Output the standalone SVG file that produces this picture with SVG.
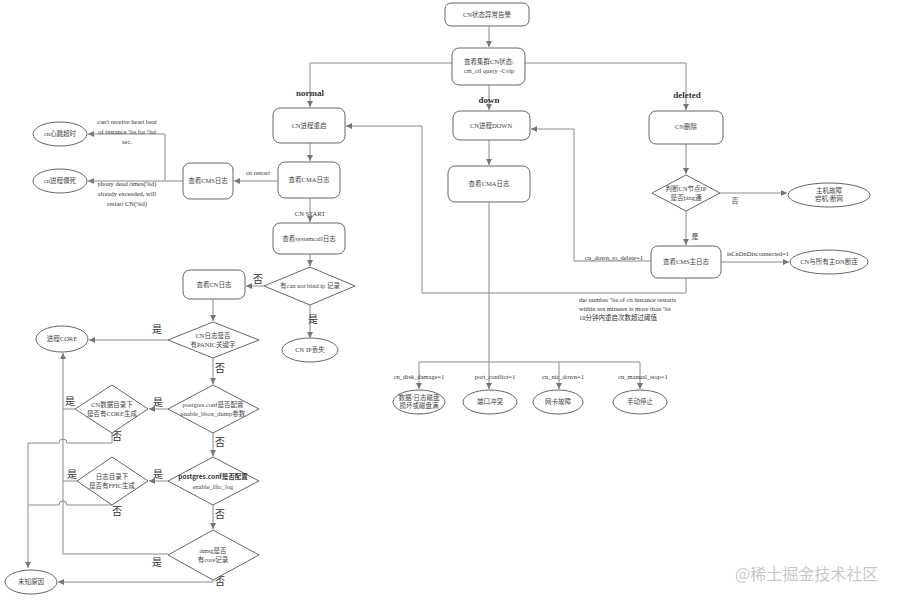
<svg xmlns="http://www.w3.org/2000/svg" width="899" height="601" viewBox="0 0 899 601">
<defs>
<style>
.box{fill:#fff;stroke:#666;stroke-width:1}
.ln{fill:none;stroke:#8a8a8a;stroke-width:1}
.t{font-family:"Liberation Serif","Noto Sans CJK SC",serif;font-size:6.5px;fill:#444;text-anchor:middle}
.lb{font-family:"Liberation Serif","Noto Sans CJK SC",serif;font-size:6.5px;fill:#333;text-anchor:middle}
.br{font-family:"Liberation Serif","Noto Sans CJK SC",serif;font-size:9px;font-weight:bold;fill:#333;text-anchor:middle}
.yn{font-family:"Liberation Serif","Noto Sans CJK SC",serif;font-size:10px;fill:#333;text-anchor:middle}
.yns{font-family:"Liberation Serif","Noto Sans CJK SC",serif;font-size:7px;fill:#444;text-anchor:middle}
.wm{font-family:"Noto Sans CJK SC",sans-serif;font-size:16px;fill:#c8c8c8}
</style>
<marker id="a" markerWidth="7" markerHeight="7" refX="6" refY="3.5" orient="auto" markerUnits="userSpaceOnUse">
<path d="M0,0.5 L6,3.5 L0,6.5 Z" fill="#777"/>
</marker>
</defs>
<rect width="899" height="601" fill="#fff"/>

<g id="connectors">
<path class="ln" d="M489,26 V47" marker-end="url(#a)"/>
<path class="ln" d="M452,63 H310 V107" marker-end="url(#a)"/>
<path class="ln" d="M525,63 H686 V110" marker-end="url(#a)"/>
<path class="ln" d="M489,85 V110" marker-end="url(#a)"/>
<path class="ln" d="M310,143 V161" marker-end="url(#a)"/>
<path class="ln" d="M278,181 H234" marker-end="url(#a)"/>
<path class="ln" d="M183,181 H88" marker-end="url(#a)"/>
<path class="ln" d="M165,181 V134 H88" marker-end="url(#a)"/>
<path class="ln" d="M310,198 V222" marker-end="url(#a)"/>
<path class="ln" d="M310,254 V266" marker-end="url(#a)"/>
<path class="ln" d="M264,286 H246" marker-end="url(#a)"/>
<path class="ln" d="M310,305 V338" marker-end="url(#a)"/>
<path class="ln" d="M213,299 V321" marker-end="url(#a)"/>
<path class="ln" d="M168,340 H89" marker-end="url(#a)"/>
<path class="ln" d="M213,358 V384" marker-end="url(#a)"/>
<path class="ln" d="M168,409 H149" marker-end="url(#a)"/>
<path class="ln" d="M75,409 H63"/>
<path class="ln" d="M63,554 V353" marker-end="url(#a)"/>
<path class="ln" d="M112,433 V443 H67 A4,4 0 0 0 59,443 H28 V568" marker-end="url(#a)"/>
<path class="ln" d="M213,433 V456" marker-end="url(#a)"/>
<path class="ln" d="M168,481 H149" marker-end="url(#a)"/>
<path class="ln" d="M77,481 H63"/>
<path class="ln" d="M112,505 H67 A4,4 0 0 0 59,505 H28"/>
<path class="ln" d="M213,505 V529" marker-end="url(#a)"/>
<path class="ln" d="M168,554 H63"/>
<path class="ln" d="M213,580 V582 H58" marker-end="url(#a)"/>
<path class="ln" d="M489,140 V165" marker-end="url(#a)"/>
<path class="ln" d="M489,202 V389" marker-end="url(#a)"/>
<path class="ln" d="M419,362 H640"/>
<path class="ln" d="M419,362 V389" marker-end="url(#a)"/>
<path class="ln" d="M559,362 V389" marker-end="url(#a)"/>
<path class="ln" d="M640,362 V389" marker-end="url(#a)"/>
<path class="ln" d="M686,144 V174" marker-end="url(#a)"/>
<path class="ln" d="M720,193 H787" marker-end="url(#a)"/>
<path class="ln" d="M686,211 V245" marker-end="url(#a)"/>
<path class="ln" d="M721,262 H789" marker-end="url(#a)"/>
<path class="ln" d="M651,261 H574 V129 H531" marker-end="url(#a)"/>
<path class="ln" d="M686,278 V293 H422 V126 H346" marker-end="url(#a)"/>
</g>

<g id="labels">
<text class="br" x="310" y="96">normal</text>
<text class="br" x="489" y="103">down</text>
<text class="br" x="687" y="98">deleted</text>
<text class="lb" x="258" y="175">cn restart</text>
<text class="lb" x="127" y="124">can't receive heart beat</text>
<text class="lb" x="127" y="134">of instance %s for %d</text>
<text class="lb" x="127" y="144">sec.</text>
<text class="lb" x="127" y="186">phony dead times(%d)</text>
<text class="lb" x="127" y="196">already exceeded, will</text>
<text class="lb" x="127" y="206">restart CN(%d)</text>
<text class="lb" x="310" y="216">CN START</text>
<text class="yn" x="258" y="283">否</text>
<text class="yn" x="313" y="323">是</text>
<text class="yn" x="157" y="333">是</text>
<text class="yn" x="220" y="372">否</text>
<text class="yn" x="158" y="406">是</text>
<text class="yn" x="70" y="405">是</text>
<text class="yn" x="117" y="440">否</text>
<text class="yn" x="220" y="446">否</text>
<text class="yn" x="158" y="478">是</text>
<text class="yn" x="72" y="478">是</text>
<text class="yn" x="117" y="515">否</text>
<text class="yn" x="220" y="518">否</text>
<text class="yn" x="157" y="566">是</text>
<text class="yn" x="220" y="585">否</text>
<text class="lb" x="419" y="379">cn_disk_damage=1</text>
<text class="lb" x="495" y="379">port_conflict=1</text>
<text class="lb" x="563" y="379">cn_nic_down=1</text>
<text class="lb" x="643" y="379">cn_manual_stop=1</text>
<text class="yns" x="735" y="203">否</text>
<text class="yns" x="695" y="239">是</text>
<text class="lb" x="758" y="256">isCnDnDisconnected=1</text>
<text class="lb" x="614" y="260">cn_down_to_delete=1</text>
<text class="lb" x="579" y="302" style="text-anchor:start">the number %s of cn instance restarts</text>
<text class="lb" x="579" y="311" style="text-anchor:start">within ten minutes is more than %s</text>
<text class="lb" x="579" y="320" style="text-anchor:start">10分钟内重启次数超过阈值</text>
</g>

<g id="n-alarm"><rect class="box" x="445" y="3" width="84" height="23" rx="6"/><text class="t" x="487" y="17">CN状态异常告警</text></g>
<g id="n-query"><rect class="box" x="452" y="48" width="73" height="37" rx="7"/><text class="t" x="489" y="64">查看集群CN状态:</text><text class="t" x="489" y="73">cm_ctl query -Cvip</text></g>
<g id="n-restart"><rect class="box" x="273" y="108" width="72" height="35" rx="7"/><text class="t" x="309" y="128">CN进程重启</text></g>
<g id="n-cma1"><rect class="box" x="278" y="162" width="62" height="36" rx="7"/><text class="t" x="309" y="182">查看CMA日志</text></g>
<g id="n-cms"><rect class="box" x="183" y="163" width="50" height="36" rx="7"/><text class="t" x="208" y="183">查看CMS日志</text></g>
<g id="n-hb"><ellipse class="box" cx="60" cy="134" rx="27" ry="12"/><text class="t" x="60" y="136">cn心跳超时</text></g>
<g id="n-dead"><ellipse class="box" cx="60" cy="181" rx="27" ry="12"/><text class="t" x="60" y="183">cn进程僵死</text></g>
<g id="n-sys"><rect class="box" x="273" y="223" width="72" height="31" rx="7"/><text class="t" x="309" y="241">查看systemcall日志</text></g>
<g id="n-bind"><polygon class="box" points="310,267 355,286 310,305 264,286"/><text class="t" x="310" y="288">有can not bind ip 记录</text></g>
<g id="n-iplost"><ellipse class="box" cx="310" cy="350" rx="28" ry="12"/><text class="t" x="310" y="352">CN IP丢失</text></g>
<g id="n-cnlog"><rect class="box" x="183" y="270" width="62" height="29" rx="7"/><text class="t" x="214" y="287">查看CN日志</text></g>
<g id="n-panic"><polygon class="box" points="213,322 259,340 213,358 168,340"/><text class="t" x="213" y="338">CN日志是否</text><text class="t" x="213" y="347">有PANIC关键字</text></g>
<g id="n-core"><ellipse class="box" cx="62" cy="339" rx="26" ry="13"/><text class="t" x="62" y="341">进程CORE</text></g>
<g id="n-bbox"><polygon class="box" points="213,385 259,409 213,433 168,409"/><text class="t" x="213" y="407">postgres.conf是否配置</text><text class="t" x="213" y="416">enable_bbox_dump参数</text></g>
<g id="n-coredir"><polygon class="box" points="112,385 148,409 112,433 75,409"/><text class="t" x="112" y="407">CN数据目录下</text><text class="t" x="112" y="416">是否有CORE生成</text></g>
<g id="n-ffic"><polygon class="box" points="213,457 259,481 213,505 168,481"/><text x="213" y="479" style="font-family:'Noto Sans CJK SC',sans-serif;font-size:6.5px;font-weight:bold;fill:#333;text-anchor:middle">postgres.conf是否配置</text><text class="t" x="213" y="489">enable_ffic_log</text></g>
<g id="n-fficdir"><polygon class="box" points="112,457 148,481 112,505 77,481"/><text class="t" x="112" y="479">日志目录下</text><text class="t" x="112" y="488">是否有FFIC生成</text></g>
<g id="n-dmsg"><polygon class="box" points="213,530 259,555 213,580 168,555"/><text class="t" x="213" y="553">dmsg是否</text><text class="t" x="213" y="562">有core记录</text></g>
<g id="n-unknown"><ellipse class="box" cx="31" cy="582" rx="26" ry="12"/><text class="t" x="31" y="584">未知原因</text></g>
<g id="n-down"><rect class="box" x="453" y="111" width="77" height="29" rx="7"/><text class="t" x="491" y="128">CN进程DOWN</text></g>
<g id="n-cma2"><rect class="box" x="448" y="166" width="82" height="36" rx="7"/><text class="t" x="489" y="186">查看CMA日志</text></g>
<g id="n-disk"><ellipse class="box" cx="419" cy="402" rx="26" ry="12"/><text class="t" x="419" y="400">数据/日志磁盘</text><text class="t" x="419" y="408">损坏或磁盘满</text></g>
<g id="n-port"><ellipse class="box" cx="490" cy="402" rx="27" ry="12"/><text class="t" x="490" y="404">端口冲突</text></g>
<g id="n-nic"><ellipse class="box" cx="558" cy="402" rx="25" ry="12"/><text class="t" x="558" y="404">网卡故障</text></g>
<g id="n-stop"><ellipse class="box" cx="640" cy="402" rx="27" ry="12"/><text class="t" x="640" y="404">手动停止</text></g>
<g id="n-deleted"><rect class="box" x="649" y="111" width="74" height="33" rx="7"/><text class="t" x="686" y="129">CN删除</text></g>
<g id="n-ping"><polygon class="box" points="686,175 720,193 686,211 652,193"/><text class="t" x="686" y="191">判断CN节点IP</text><text class="t" x="686" y="200">是否ping通</text></g>
<g id="n-host"><ellipse class="box" cx="829" cy="195" rx="41" ry="12"/><text class="t" x="829" y="193">主机故障</text><text class="t" x="829" y="201">宕机/断网</text></g>
<g id="n-cmsmain"><rect class="box" x="651" y="246" width="70" height="32" rx="7"/><text class="t" x="686" y="264">查看CMS主日志</text></g>
<g id="n-dn"><ellipse class="box" cx="829" cy="262" rx="39" ry="12"/><text class="t" x="829" y="264">CN与所有主DN断连</text></g>

<text class="wm" x="735" y="580">@稀土掘金技术社区</text>
</svg>
